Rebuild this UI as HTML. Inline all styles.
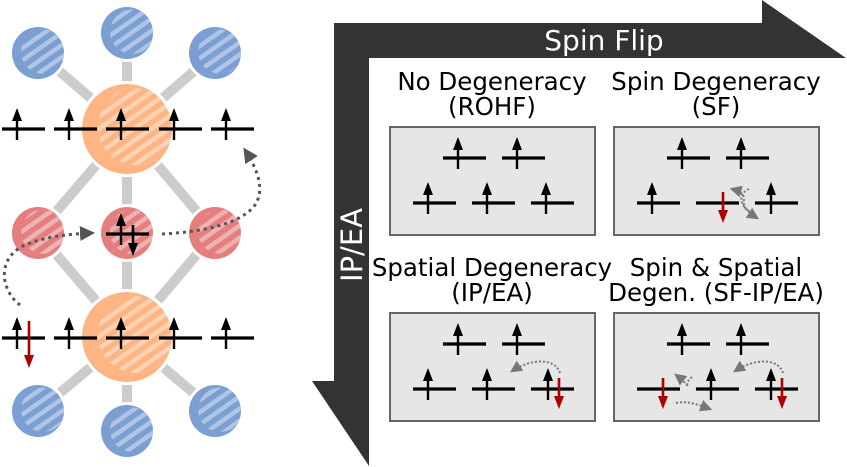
<!DOCTYPE html>
<html><head><meta charset="utf-8"><style>
html,body{margin:0;padding:0;background:#fff;width:847px;height:467px;overflow:hidden}
text{font-family:"DejaVu Sans","Liberation Sans",sans-serif}
</style></head><body>
<svg id="svg" width="847" height="467" viewBox="0 0 847 467" xmlns="http://www.w3.org/2000/svg">
<defs>
<pattern id="hatch" patternUnits="userSpaceOnUse" width="10" height="10" patternTransform="rotate(-35)">
<rect width="10" height="4.5" fill="rgba(255,255,255,0.4)"/>
</pattern>
<marker id="ah" viewBox="0 0 10 10" refX="8" refY="5" markerWidth="5" markerHeight="5" orient="auto"><path d="M0,0L10,5L0,10z" fill="#555"/></marker>
<marker id="ahs" viewBox="0 0 10 10" refX="8" refY="5" markerWidth="6" markerHeight="6" orient="auto"><path d="M0,0L10,5L0,10z" fill="#777"/></marker>
</defs>
<g id="bonds" stroke="#cccccc" stroke-width="10">
<line x1="127" y1="129" x2="38" y2="53"/><line x1="127" y1="129" x2="127" y2="33"/><line x1="127" y1="129" x2="215" y2="53"/>
<line x1="127" y1="129" x2="38" y2="233"/><line x1="127" y1="129" x2="127" y2="233"/><line x1="127" y1="129" x2="215" y2="233"/>
<line x1="127" y1="337" x2="38" y2="233"/><line x1="127" y1="337" x2="127" y2="233"/><line x1="127" y1="337" x2="215" y2="233"/>
<line x1="127" y1="337" x2="38" y2="411"/><line x1="127" y1="337" x2="127" y2="431"/><line x1="127" y1="337" x2="215" y2="411"/>
</g>
<g id="atoms"></g>
<g id="orbs"></g>
<g id="panel">
<path d="M334,23H762V0L846,58H369V466L312,381H334Z" fill="#333"/>
<text x="604" y="50" font-size="28" fill="#fff" text-anchor="middle">Spin Flip</text>
<text transform="translate(362,245) rotate(-90)" font-size="29" fill="#fff" text-anchor="middle">IP/EA</text>
</g>
<g id="boxes"></g>
<g fill="none" stroke="#555" stroke-width="3" stroke-dasharray="3 4">
<path d="M162,234 C200,232 240,225 255,205 C265,190 258,170 245,150" marker-end="url(#ah)"/>
<path d="M20,305 C0,290 -5,255 30,243 C50,236 70,234 92,233" marker-end="url(#ah)"/>
</g>
</svg>
<script>
const NS="http://www.w3.org/2000/svg";
function el(tag,attrs,parent){const e=document.createElementNS(NS,tag);for(const k in attrs)e.setAttribute(k,attrs[k]);parent.appendChild(e);return e;}
const atoms=document.getElementById('atoms');
const atomList=[[38,53,26,'#7b9fd3','blue'],[127,33,26,'#7b9fd3','blue'],[215,53,26,'#7b9fd3','blue'],
[38,411,26,'#7b9fd3','blue'],[127,431,26,'#7b9fd3','blue'],[215,411,26,'#7b9fd3','blue'],
[127,129,45,'#fdb584','orange'],[127,337,45,'#fdb584','orange'],
[38,233,26,'#e57e7e','red'],[127,233,26,'#e57e7e','red'],[215,233,26,'#e57e7e','red']];
atomList.forEach((a,i)=>{
 const g=el('g',{},atoms);
 
 
 el('circle',{cx:a[0],cy:a[1],r:a[2]+3,fill:'#fff'},g);
 el('circle',{cx:a[0],cy:a[1],r:a[2],fill:a[3]},g);
 const cp=el('clipPath',{id:'cp'+i},g);
 el('circle',{cx:a[0],cy:a[1],r:a[2]},cp);
 el('circle',{cx:a[0]+a[2]*0.2,cy:a[1]-a[2]*0.05,r:a[2]*0.85,fill:'url(#hatch)','clip-path':'url(#cp'+i+')'},g);
});
function level(p,x1,y,w){const l=el('line',{x1:x1,y1:y,x2:x1+w,y2:y,stroke:'#000','stroke-width':3.2},p);}
function up(p,x,y){el('line',{x1:x,y1:y+11,x2:x,y2:y-10,stroke:'#000','stroke-width':2.4},p);el('path',{d:`M${x-5},${y-8}L${x},${y-21}L${x+5},${y-8}Z`,fill:'#000'},p);}
function down(p,x,y,c,len){len=len||0;el('line',{x1:x,y1:y-11-len,x2:x,y2:y+9,stroke:c,'stroke-width':2.6},p);el('path',{d:`M${x-5},${y+7}L${x},${y+20}L${x+5},${y+7}Z`,fill:c},p);}
const orbs=document.getElementById('orbs');
[129,338].forEach(y=>{[2,54,106,159,211].forEach(x=>{level(orbs,x,y,43);up(orbs,x+15,y);});});
down(orbs,29,348,'#aa0000',16);
level(orbs,106,234,43);up(orbs,121,234);down(orbs,133,236,'#000');
const boxes=document.getElementById('boxes');
const B=[{x:390,y:127,t:['No Degeneracy','(ROHF)'],ty:90,n:'rohf'},
{x:614,y:127,t:['Spin Degeneracy','(SF)'],ty:90,n:'sf'},
{x:390,y:313,t:['Spatial Degeneracy','(IP/EA)'],ty:276,n:'ip-ea'},
{x:614,y:313,t:['Spin & Spatial','Degen. (SF-IP/EA)'],ty:276,n:'sf-ip-ea'}];
B.forEach((b,i)=>{
 const g=el('g',{},boxes);
 
 
 const cx=b.x+102;
 b.t.forEach((s,j)=>{const t=el('text',{x:cx,y:b.ty+j*25,'font-size':24.5,'text-anchor':'middle',fill:'#000'},g);t.textContent=s;});
 el('rect',{x:b.x,y:b.y,width:205,height:108,fill:'#e6e6e6',stroke:'#666','stroke-width':2},g);
 const ty=b.y+31,by=b.y+76;
 [53,112].forEach(dx=>{level(g,b.x+dx,ty,43);up(g,b.x+dx+15,ty);});
 const bx=[23,82,141];
 bx.forEach(dx=>level(g,b.x+dx,by,43));
 const red='#aa0000';
 const dash={fill:'none',stroke:'#777','stroke-width':2,'stroke-dasharray':'2 2','marker-end':'url(#ahs)'};
 if(i==0){bx.forEach(dx=>up(g,b.x+dx+15,by));}
 if(i==1){up(g,b.x+38,by);down(g,b.x+109,by,red);up(g,b.x+157,by);
  el('path',Object.assign({d:`M${b.x+135},${by+8} C${b.x+122},${by} ${b.x+140},${by-8} ${b.x+118},${by-14}`},dash),g);
  el('path',Object.assign({d:`M${b.x+135},${by-14} C${b.x+122},${by-8} ${b.x+126},${by+4} ${b.x+143},${by+15}`},dash),g);}
 if(i==2){up(g,b.x+38,by);up(g,b.x+97,by);up(g,b.x+158,by);down(g,b.x+169,by,red);
  el('path',Object.assign({d:`M${b.x+170},${by-16} C${b.x+165},${by-32} ${b.x+140},${by-30} ${b.x+122},${by-18}`},dash),g);}
 if(i==3){down(g,b.x+49,by,red);up(g,b.x+97,by);up(g,b.x+157,by);down(g,b.x+168,by,red);
  el('path',Object.assign({d:`M${b.x+169},${by-16} C${b.x+164},${by-32} ${b.x+139},${by-30} ${b.x+121},${by-18}`},dash),g);
  el('path',Object.assign({d:`M${b.x+78},${by-12} C${b.x+65},${by-2} ${b.x+85},${by+4} ${b.x+62},${by-14}`},dash),g);
  el('path',Object.assign({d:`M${b.x+62},${by+14} C${b.x+72},${by+12} ${b.x+80},${by+14} ${b.x+96},${by+20}`},dash),g);}
});
</script>
</body></html>
